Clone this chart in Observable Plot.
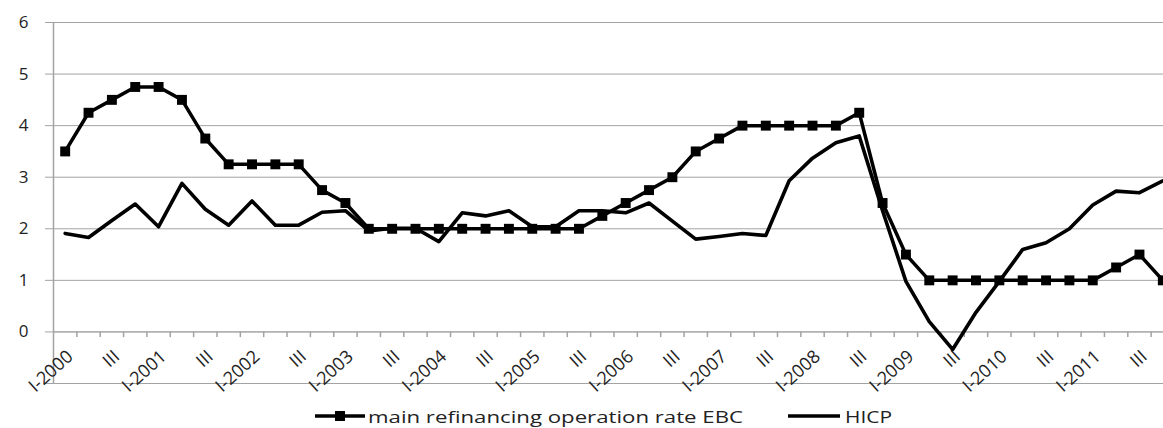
<!DOCTYPE html>
<html><head><meta charset="utf-8">
<script src="https://cdn.jsdelivr.net/npm/d3@7"></script>
<script src="https://cdn.jsdelivr.net/npm/@observablehq/plot@0.6"></script>
<style>
body{margin:0;background:#fff;overflow:hidden;font-family:"Open Sans",sans-serif;}
#wrap{position:relative;width:1163px;height:428px;}
#legend{position:absolute;left:0;top:400px;}
</style></head><body>
<div id="wrap"><div id="chart"></div><svg id="legend" width="1163" height="28"></svg></div>
<script>
const quarters = [
  "I-2000","II-2000","III-2000","IV-2000","I-2001","II-2001","III-2001","IV-2001",
  "I-2002","II-2002","III-2002","IV-2002","I-2003","II-2003","III-2003","IV-2003",
  "I-2004","II-2004","III-2004","IV-2004","I-2005","II-2005","III-2005","IV-2005",
  "I-2006","II-2006","III-2006","IV-2006","I-2007","II-2007","III-2007","IV-2007",
  "I-2008","II-2008","III-2008","IV-2008","I-2009","II-2009","III-2009","IV-2009",
  "I-2010","II-2010","III-2010","IV-2010","I-2011","II-2011","III-2011","IV-2011"
];
const tickLabels = [
  "I-2000","III","I-2001","III","I-2002","III","I-2003","III","I-2004","III","I-2005","III",
  "I-2006","III","I-2007","III","I-2008","III","I-2009","III","I-2010","III","I-2011","III"
];
const refiRate = [
  3.5,4.25,4.5,4.75,4.75,4.5,3.75,3.25,3.25,3.25,3.25,2.75,
  2.5,2.0,2.0,2.0,2.0,2.0,2.0,2.0,2.0,2.0,2.0,2.25,
  2.5,2.75,3.0,3.5,3.75,4.0,4.0,4.0,4.0,4.0,4.25,2.5,
  1.5,1.0,1.0,1.0,1.0,1.0,1.0,1.0,1.0,1.25,1.5,1.0
];
const hicp = [
  1.91,1.83,2.16,2.48,2.04,2.88,2.38,2.07,2.54,2.07,2.07,2.32,
  2.35,1.96,2.01,2.01,1.75,2.31,2.25,2.35,2.04,2.04,2.35,2.35,
  2.31,2.5,2.15,1.80,1.85,1.91,1.87,2.93,3.37,3.67,3.8,2.35,
  0.98,0.2,-0.34,0.38,0.98,1.6,1.73,2.0,2.46,2.73,2.7,2.93
];
const yTicks = [-1,0,1,2,3,4,5,6];
const seriesNames = ["main refinancing operation rate EBC","HICP"];

const rows = quarters.map((q,i)=>({i, q, refi: refiRate[i], hicp: hicp[i]}));
const boundaries = quarters.map((q,i)=>i+0.5);
const labelRows = tickLabels.map((t,k)=>({i:2*k, t}));
const gray = "#a3a3a3";

const chart = Plot.plot({
  width: 1163, height: 400,
  marginLeft: 53, marginRight: 0, marginTop: 22, marginBottom: 17,
  style: {fontFamily: '"Open Sans", sans-serif', fontSize: "17px", color: "#222", background: "#fff"},
  x: {domain: [-0.5, 47.5], range: [53, 1174], axis: null},
  y: {domain: [-1, 6], axis: null},
  marks: [
    Plot.gridY(yTicks, {stroke: gray, strokeOpacity: 1, strokeWidth: 1}),
    Plot.axisY(yTicks, {tickSize: 8, tickPadding: 17, stroke: gray, strokeOpacity: 1, fontSize: 17,
      tickFormat: d => d < 0 ? "" : String(d)}),
    Plot.ruleX([-0.5], {y1: -1, y2: 6, stroke: gray, strokeWidth: 1.5}),
    Plot.ruleY([0], {stroke: gray, strokeWidth: 1}),
    Plot.ruleX(boundaries, {y1: 0, y2: -0.11, stroke: gray, strokeWidth: 1.5}),
    Plot.text(labelRows, {x: "i", y: 0, text: "t", rotate: -42, textAnchor: "end", lineAnchor: "middle",
      dx: 5, dy: 22, fontSize: 18, fill: "#222"}),
    Plot.line(rows, {x: "i", y: "hicp", stroke: "#000", strokeWidth: 3.6}),
    Plot.line(rows, {x: "i", y: "refi", stroke: "#000", strokeWidth: 3.5}),
    Plot.dot(rows, {x: "i", y: "refi", symbol: "square", fill: "#000", r: 5.6})
  ]
});
document.getElementById("chart").appendChild(chart);

// legend
const lg = d3.select("#legend");
const cy = 16;
lg.append("line").attr("x1",315).attr("x2",365).attr("y1",cy).attr("y2",cy).attr("stroke","#000").attr("stroke-width",3.5);
lg.append("rect").attr("x",335).attr("y",cy-5).attr("width",10).attr("height",10).attr("fill","#000");
lg.append("text").attr("x",368).attr("y",cy).attr("dominant-baseline","central")
  .attr("font-family",'"Open Sans", sans-serif').attr("font-size",17).attr("fill","#222")
  .attr("textLength",375).attr("lengthAdjust","spacingAndGlyphs").text(seriesNames[0]);
lg.append("line").attr("x1",788).attr("x2",840).attr("y1",cy).attr("y2",cy).attr("stroke","#000").attr("stroke-width",3.5);
lg.append("text").attr("x",845).attr("y",cy).attr("dominant-baseline","central")
  .attr("font-family",'"Open Sans", sans-serif').attr("font-size",17).attr("fill","#222")
  .attr("textLength",47).attr("lengthAdjust","spacingAndGlyphs").text(seriesNames[1]);
</script>
</body></html>
